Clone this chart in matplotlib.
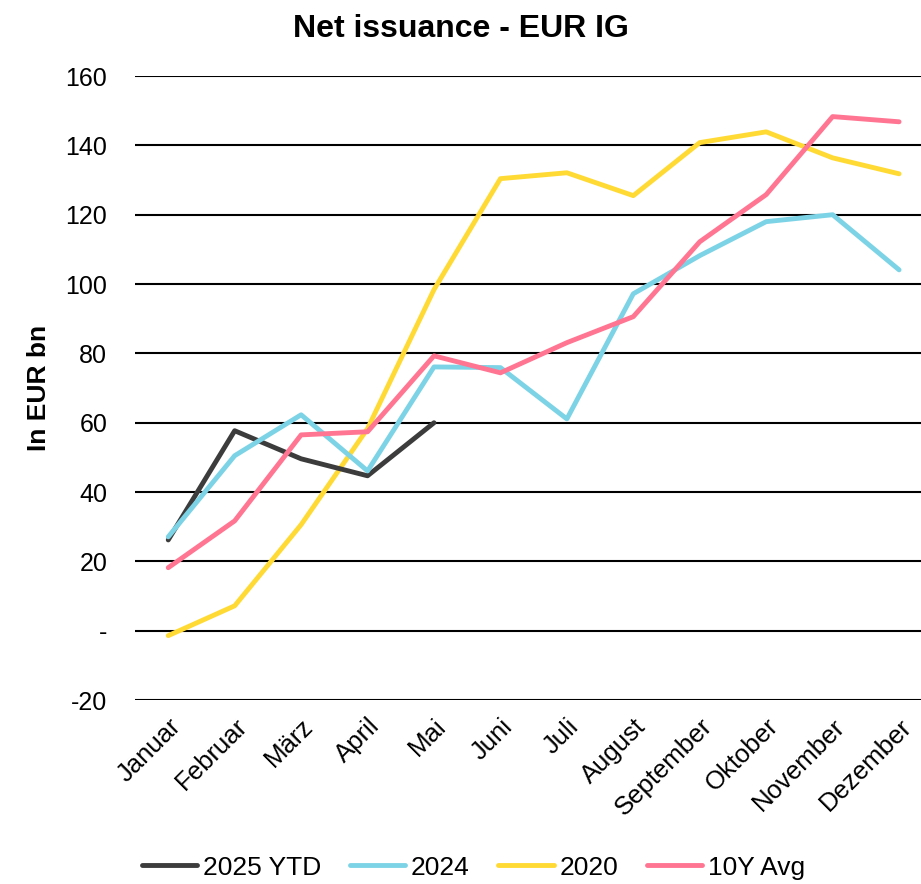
import matplotlib.pyplot as plt

plt.rcParams['font.family'] = ['Liberation Sans', 'DejaVu Sans']

months = ["Januar", "Februar", "März", "April", "Mai", "Juni", "Juli",
          "August", "September", "Oktober", "November", "Dezember"]

ytd_2025 = [26.2, 57.7, 49.6, 44.7, 60.0]
y_2024 = [27.1, 50.5, 62.3, 46.1, 76.1, 75.9, 61.1, 97.2, 108.2, 118.0, 120.0, 104.1]
y_2020 = [-1.4, 7.2, 30.6, 58.3, 98.4, 130.4, 132.1, 125.5, 140.8, 143.9, 136.4, 131.8]
avg_10y = [18.2, 31.7, 56.5, 57.4, 79.3, 74.4, 83.1, 90.6, 112.2, 125.8, 148.3, 146.8]

yticks = [-20, 0, 20, 40, 60, 80, 100, 120, 140, 160]
ytick_labels = ["-20", "-", "20", "40", "60", "80", "100", "120", "140", "160"]

fig = plt.figure(figsize=(9.21, 8.84), dpi=100)
ax = fig.add_axes([0.1466, 0.208, 0.8534, 0.706])

for y in yticks:
    ax.axhline(y, color="black", lw=1.5, zorder=1)

x_all = list(range(len(months)))
ax.plot(x_all[:len(ytd_2025)], ytd_2025, color="#3c3c3c", lw=3.5, label="2025 YTD",
        solid_capstyle="round", zorder=3)
ax.plot(x_all, y_2024, color="#7dd3e6", lw=3.5, label="2024", solid_capstyle="round", zorder=3)
ax.plot(x_all, y_2020, color="#ffda35", lw=3.5, label="2020", solid_capstyle="round", zorder=2)
ax.plot(x_all, avg_10y, color="#ff7592", lw=3.5, label="10Y Avg", solid_capstyle="round", zorder=3)

ax.set_xlim(-0.5, 11.33)
ax.set_ylim(-20, 160)
ax.set_yticks(yticks)
ax.set_yticklabels(ytick_labels, fontsize=18)
ax.set_xticks(x_all)
ax.set_xticklabels(months, rotation=45, ha="right", rotation_mode="anchor", fontsize=18.5)
ax.tick_params(length=0, pad=10)
ax.tick_params(axis="y", pad=20)
for s in ax.spines.values():
    s.set_visible(False)

ax.set_ylabel("In EUR bn", fontsize=19, fontweight="bold", labelpad=10)
fig.suptitle("Net issuance - EUR IG", fontsize=23, fontweight="bold", y=0.984)

fig.legend(loc="lower center", bbox_to_anchor=(0.514, -0.022), ncol=4, frameon=False,
           fontsize=19, handlelength=2.1, handletextpad=0.2, columnspacing=1.1)

fig.savefig("out.png", dpi=100)
